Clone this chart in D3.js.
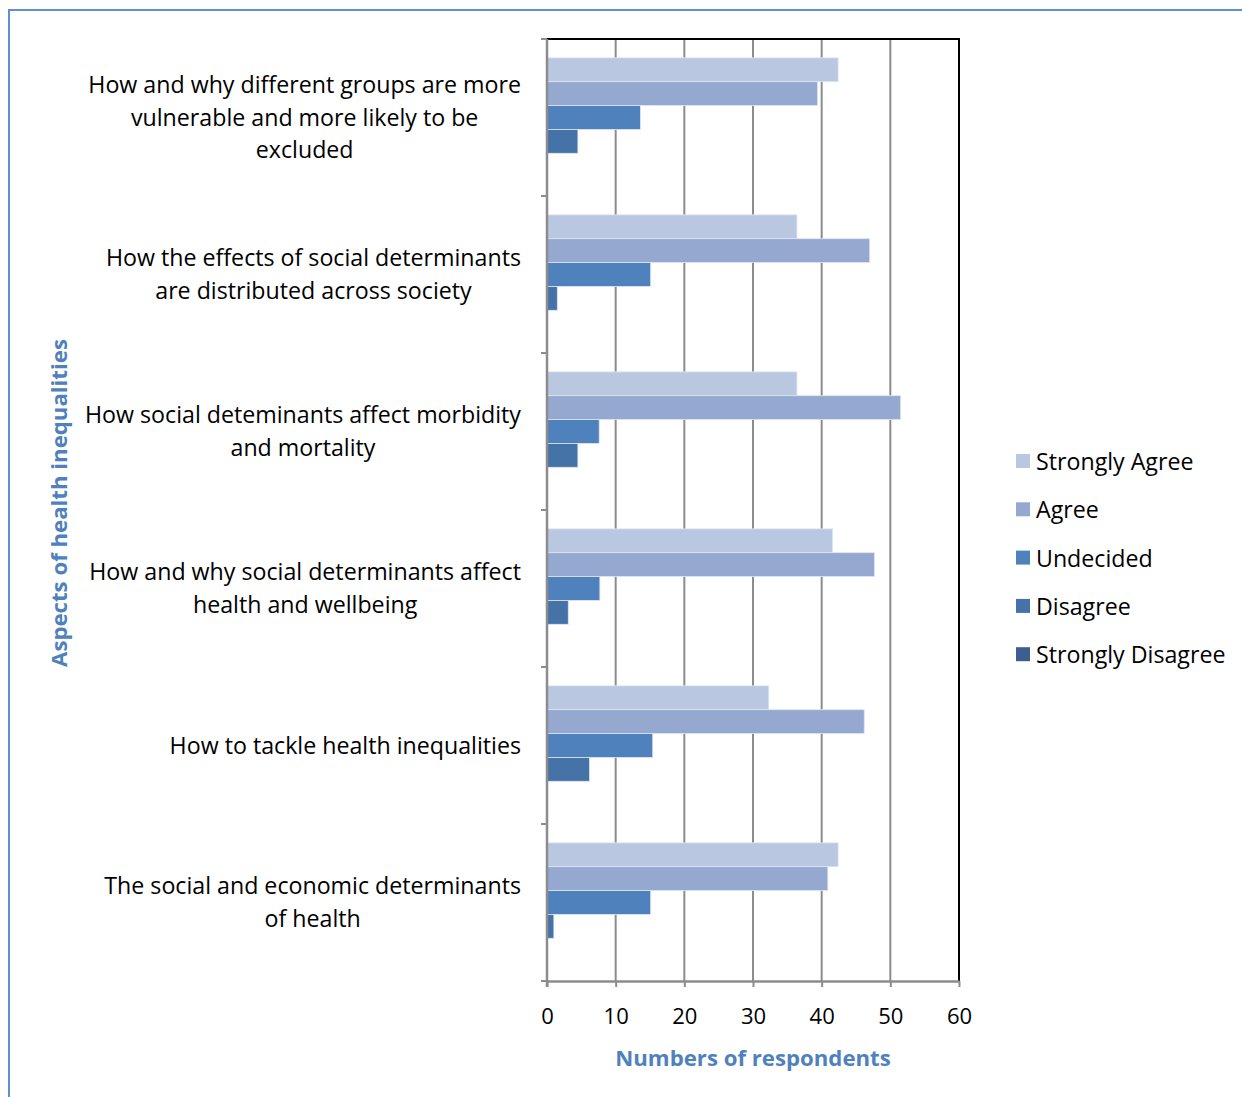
<!DOCTYPE html>
<html><head><meta charset="utf-8">
<script src="https://cdn.jsdelivr.net/npm/d3@7"></script>
<style>body{margin:0;background:#fff}svg{display:block}</style>
</head><body>
<svg id="c" width="1242" height="1097"></svg>
<script>
const categories = [
  ["How and why different groups are more", "vulnerable and more likely to be", "excluded"],
  ["How the effects of social determinants", "are distributed across society"],
  ["How social deteminants affect morbidity", "and mortality"],
  ["How and why social determinants affect", "health and wellbeing"],
  ["How to tackle health inequalities"],
  ["The social and economic determinants", "of health"]
];
const seriesNames = ["Strongly Agree", "Agree", "Undecided", "Disagree", "Strongly Disagree"];
const stronglyAgree    = [42.4, 36.4, 36.4, 41.6, 32.3, 42.4];
const agree            = [39.4, 47.0, 51.5, 47.7, 46.2, 40.9];
const undecided        = [13.6, 15.1, 7.6, 7.7, 15.4, 15.1];
const disagree         = [4.5, 1.5, 4.5, 3.1, 6.2, 1.0];
const stronglyDisagree = [0, 0, 0, 0, 0, 0];
const xTicks = [0, 10, 20, 30, 40, 50, 60];
const colors = ["#BAC7E0", "#95A9D0", "#4F81BD", "#4572A7", "#3C5F8F"];

const seriesValues = [stronglyAgree, agree, undecided, disagree, stronglyDisagree];
const FONT = "'Open Sans', Lato, sans-serif";
const FS = 23.2;
const FSB = 22.2;
const svg = d3.select("#c");

// outer frame
svg.append("path").attr("d", "M9,1097 V10 H1242").attr("fill", "none")
  .attr("stroke", "#5E8FD3").attr("stroke-width", 2);

const L = 547, R = 959, T = 39, B = 981;
const x = d3.scaleLinear().domain([0, 60]).range([L, R]);
const y = d3.scaleBand().domain(d3.range(categories.length)).range([T, B]);
const inner = d3.scaleBand().domain(d3.range(seriesNames.length))
  .range([0, y.bandwidth()]).paddingOuter(0.79).paddingInner(0);

// gridlines
svg.append("g").selectAll("line").data(xTicks.slice(1, -1)).join("line")
  .attr("x1", d => x(d)).attr("x2", d => x(d)).attr("y1", T).attr("y2", B)
  .attr("stroke", "#8c8c8c").attr("stroke-width", 2);

// plot border (top & right)
svg.append("path").attr("d", `M${L},${T} H${R} V${B}`).attr("fill", "none")
  .attr("stroke", "#000").attr("stroke-width", 2);

// bars
const g = svg.append("g");
categories.forEach((c, ci) => {
  seriesValues.forEach((vals, si) => {
    const v = vals[ci];
    if (v <= 0) return;
    g.append("rect")
      .attr("x", x(0)).attr("y", y(ci) + inner(si))
      .attr("width", x(v) - x(0)).attr("height", inner.bandwidth())
      .attr("fill", colors[si]).attr("stroke", "#dfe6f2").attr("stroke-width", 0.8);
  });
});

// axes
const xAxis = svg.append("g").attr("transform", `translate(0,${B})`)
  .call(d3.axisBottom(x).tickValues(xTicks).tickSize(6).tickPadding(21).tickSizeOuter(0));
xAxis.select(".domain").attr("stroke", "#8c8c8c").attr("stroke-width", 2.5);
xAxis.selectAll(".tick line").attr("stroke", "#8c8c8c").attr("stroke-width", 2);
xAxis.selectAll(".tick text").attr("font-family", FONT).attr("font-size", 22).attr("fill", "#000");

const yAxisG = svg.append("g");
yAxisG.append("line").attr("x1", L).attr("x2", L).attr("y1", T).attr("y2", B + 6)
  .attr("stroke", "#8c8c8c").attr("stroke-width", 2.5);
yAxisG.selectAll("line.t").data(d3.range(categories.length + 1)).join("line").attr("class", "t")
  .attr("x1", L - 6).attr("x2", L)
  .attr("y1", d => T + d * y.step()).attr("y2", d => T + d * y.step())
  .attr("stroke", "#8c8c8c").attr("stroke-width", 2);

// category labels
categories.forEach((lines, ci) => {
  const cy = y(ci) + y.bandwidth() / 2;
  const lh = 32.5;
  const tg = svg.append("g");
  const texts = lines.map((ln, i) => tg.append("text")
    .attr("font-family", FONT).attr("font-size", FS).attr("fill", "#000")
    .attr("text-anchor", "middle").attr("dominant-baseline", "central")
    .attr("y", cy - 1 + (i - (lines.length - 1) / 2) * lh).text(ln));
  const maxW = d3.max(texts, t => t.node().getComputedTextLength());
  texts.forEach(t => t.attr("x", 521 - maxW / 2));
});

// axis titles
svg.append("text").attr("transform", "translate(58,503) rotate(-90)")
  .attr("text-anchor", "middle").attr("dominant-baseline", "central")
  .attr("font-family", FONT).attr("font-size", FSB).attr("font-weight", "bold")
  .attr("fill", "#4F81BD").text("Aspects of health inequalities");
svg.append("text").attr("x", 753).attr("y", 1057)
  .attr("text-anchor", "middle").attr("dominant-baseline", "central")
  .attr("font-family", FONT).attr("font-size", FSB).attr("font-weight", "bold")
  .attr("fill", "#4F81BD").text("Numbers of respondents");

// legend
const lg = svg.append("g");
seriesNames.forEach((n, i) => {
  const ly = 461 + i * 48.3;
  lg.append("rect").attr("x", 1016).attr("y", ly - 7).attr("width", 14).attr("height", 14)
    .attr("fill", colors[i]);
  lg.append("text").attr("x", 1036).attr("y", ly).attr("dominant-baseline", "central")
    .attr("font-family", FONT).attr("font-size", FS).attr("fill", "#000").text(n);
});
</script>
</body></html>
